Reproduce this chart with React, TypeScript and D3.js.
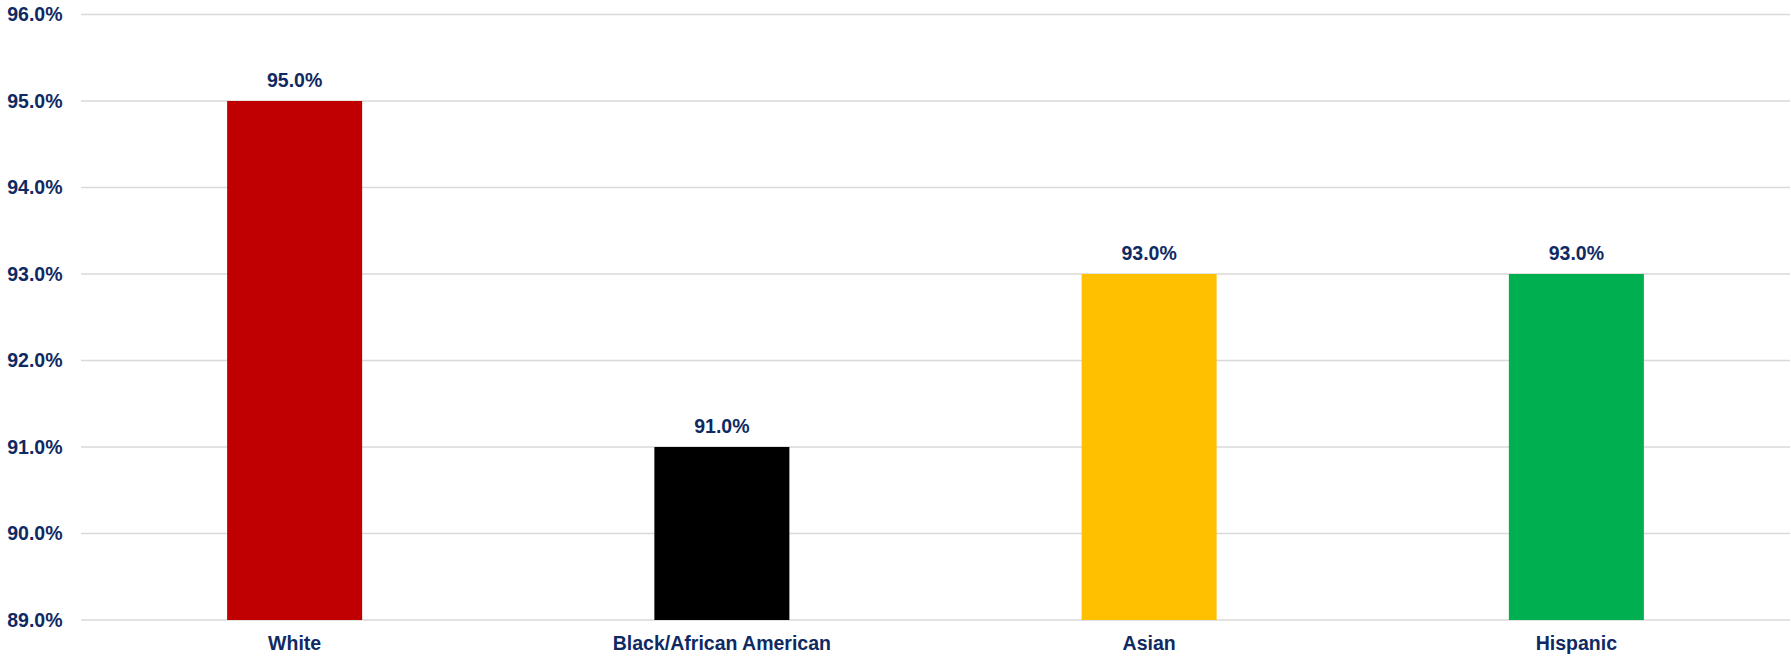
import React from "react";
import * as d3 from "d3";

const categories = ["White", "Black/African American", "Asian", "Hispanic"];
const values = [95.0, 91.0, 93.0, 93.0];
const barColors = ["#C00000", "#000000", "#FFC000", "#00B050"];
const yTicks = [89, 90, 91, 92, 93, 94, 95, 96];

const W = 1791;
const H = 657;
const TEXT = "#0F2A63";
const FONT = "'Liberation Sans', Arial, sans-serif";

export default function App() {
  const y = d3.scaleLinear().domain([89, 96]).range([620, 14.5]);
  const x = d3
    .scaleBand<string>()
    .domain(categories)
    .range([81, 1790])
    .paddingInner(0.684)
    .paddingOuter(0.342);
  const fmt = (v: number) => d3.format(".1f")(v) + "%";

  return (
    <svg
      width={W}
      height={H}
      style={{ position: "absolute", left: 0, top: 0, background: "#fff" }}
      fontFamily={FONT}
    >
      {yTicks.map((t) => (
        <g key={t}>
          <line
            x1={81}
            x2={1790}
            y1={y(t)}
            y2={y(t)}
            stroke="#D9D9D9"
            strokeWidth={1.5}
          />
          <text
            x={62.5}
            y={y(t)}
            dy="0.35em"
            textAnchor="end"
            fontSize={19.5}
            fontWeight="bold"
            fill={TEXT}
          >
            {fmt(t)}
          </text>
        </g>
      ))}
      {categories.map((c, i) => (
        <g key={c}>
          <rect
            x={x(c)!}
            y={y(values[i])}
            width={x.bandwidth()}
            height={y(89) - y(values[i])}
            fill={barColors[i]}
          />
          <text
            x={x(c)! + x.bandwidth() / 2}
            y={y(values[i]) - 14}
            textAnchor="middle"
            fontSize={19.5}
            fontWeight="bold"
            fill={TEXT}
          >
            {fmt(values[i])}
          </text>
          <text
            x={x(c)! + x.bandwidth() / 2}
            y={650}
            textAnchor="middle"
            fontSize={19.5}
            fontWeight="bold"
            fill={TEXT}
          >
            {c}
          </text>
        </g>
      ))}
    </svg>
  );
}
